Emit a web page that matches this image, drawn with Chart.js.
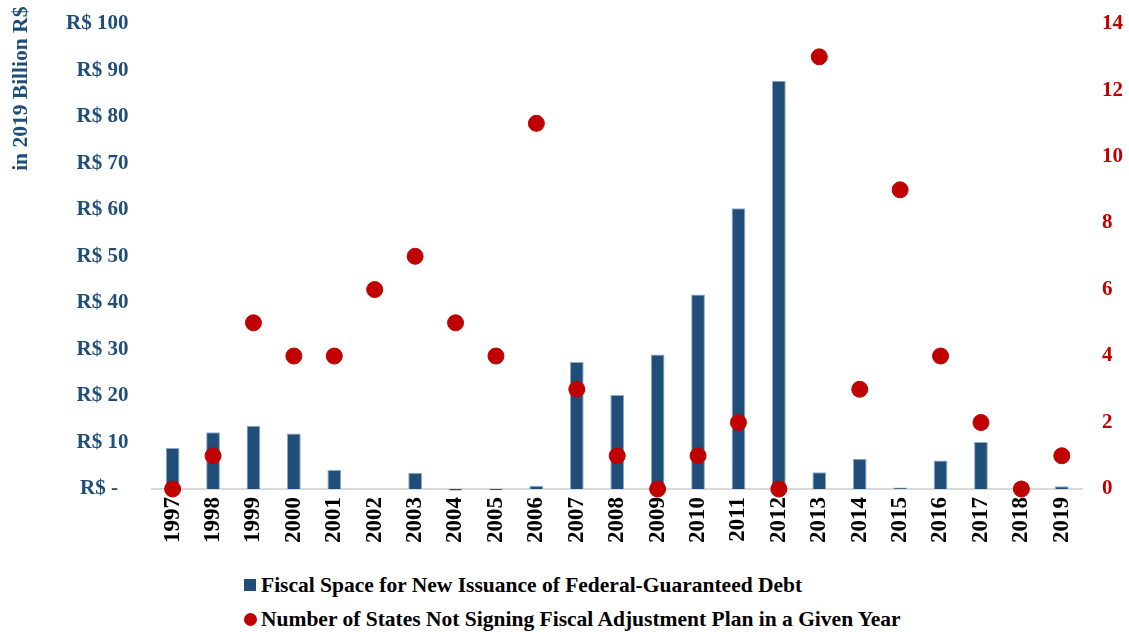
<!DOCTYPE html>
<html>
  <head>
    <meta charset="UTF-8" />
    <title>Fiscal Space and Fiscal Adjustment Plans</title>
    <script src="https://cdn.jsdelivr.net/npm/chart.js@4/dist/chart.umd.min.js"></script>
    <style>
      body { margin: 0; background: #fff; overflow: hidden; }
      #wrap { position: relative; width: 1129px; height: 632px; overflow: hidden; }
      #chart { position: absolute; left: 0; top: -13px; }
      #legend {
        position: absolute; left: 244px; top: 568px;
        font: bold 21.5px "Liberation Serif", "Times New Roman", serif; color: #000;
      }
      .item { display: flex; align-items: center; height: 34px; }
      .box { width: 12px; height: 12px; margin-right: 5px; }
      .dot { width: 13px; height: 13px; border-radius: 50%; margin-right: 4px; }
    </style>
  </head>
  <body>
    <div id="wrap">
      <canvas id="chart" width="1129" height="564"></canvas>
      <div id="legend"></div>
    </div>
    <script>
      const years = ['1997','1998','1999','2000','2001','2002','2003','2004','2005','2006','2007','2008',
                     '2009','2010','2011','2012','2013','2014','2015','2016','2017','2018','2019'];
      // R$ billion, 2019 prices
      const fiscalSpace = [8.8, 12.2, 13.6, 11.9, 4.1, 0, 3.5, -0.3, -0.2, 0.7, 27.3, 20.2,
                           28.9, 41.8, 60.3, 87.7, 3.6, 6.5, 0.3, 6.1, 10.1, 1.3, 0.6];
      const statesNotSigning = [0, 1, 5, 4, 4, 6, 7, 5, 4, 11, 3, 1,
                                0, 1, 2, 0, 13, 3, 9, 4, 2, 0, 1];
      const barLabel = 'Fiscal Space for New Issuance of Federal-Guaranteed Debt';
      const dotLabel = 'Number of States Not Signing Fiscal Adjustment Plan in a Given Year';
      const unitTitle = 'in 2019 Billion R$';

      const BLUE = '#1f4e79';
      const RED = '#c00000';
      const serif = '"Liberation Serif", "Times New Roman", serif';

      // left axis title sits at the top corner, above the plot
      const unitTitlePlugin = {
        id: 'unitTitle',
        afterDraw(c) {
          const ctx = c.ctx;
          ctx.save();
          ctx.translate(21, c.chartArea.top - 17);
          ctx.rotate(-Math.PI / 2);
          ctx.font = 'bold 21.5px ' + serif;
          ctx.fillStyle = BLUE;
          ctx.textAlign = 'right';
          ctx.textBaseline = 'middle';
          ctx.fillText(unitTitle, 0, 0);
          ctx.restore();
        }
      };

      const chart = new Chart(document.getElementById('chart'), {
        data: {
          labels: years,
          datasets: [
            {
              type: 'line', label: dotLabel, data: statesNotSigning, yAxisID: 'y2',
              showLine: false, pointRadius: 8, pointHoverRadius: 8,
              pointBackgroundColor: RED, pointBorderColor: RED, backgroundColor: RED,
              clip: false, order: 0
            },
            {
              type: 'bar', label: barLabel, data: fiscalSpace, yAxisID: 'y',
              backgroundColor: BLUE, borderColor: '#8ea9c8', borderWidth: { top: 1, left: 1, right: 1 },
              barPercentage: 0.34, categoryPercentage: 1,
              clip: false, order: 1
            }
          ]
        },
        plugins: [unitTitlePlugin],
        options: {
          responsive: false,
          animation: false,
          layout: { padding: { top: 0, right: -14, left: 42 } },
          plugins: { legend: { display: false }, tooltip: { enabled: false } },
          scales: {
            x: {
              grid: { display: false, drawTicks: false },
              border: { color: '#d9d9d9', width: 2 },
              ticks: {
                minRotation: 90, maxRotation: 90, padding: 8, color: '#000',
                font: { family: serif, size: 23, weight: 'bold' }
              }
            },
            y: {
              position: 'left', min: 0, max: 100,
              grid: { display: false, drawTicks: false },
              border: { display: false },
              ticks: {
                stepSize: 10, padding: 24, color: BLUE,
                font: { family: serif, size: 21, weight: 'bold' },
                callback: v => v === 0 ? 'R$ -  ' : 'R$ ' + v
              }
            },
            y2: {
              position: 'right', min: 0, max: 14,
              grid: { display: false, drawTicks: false },
              border: { display: false },
              ticks: {
                stepSize: 2, padding: 20, color: RED,
                font: { family: serif, size: 21, weight: 'bold' }
              }
            }
          }
        }
      });

      // legend rows, built from the dataset settings
      const legend = document.getElementById('legend');
      [chart.data.datasets[1], chart.data.datasets[0]].forEach(ds => {
        const row = document.createElement('div');
        row.className = 'item';
        const mark = document.createElement('span');
        mark.className = ds.type === 'bar' ? 'box' : 'dot';
        mark.style.background = ds.backgroundColor;
        row.appendChild(mark);
        row.appendChild(document.createTextNode(ds.label));
        legend.appendChild(row);
      });
    </script>
  </body>
</html>
